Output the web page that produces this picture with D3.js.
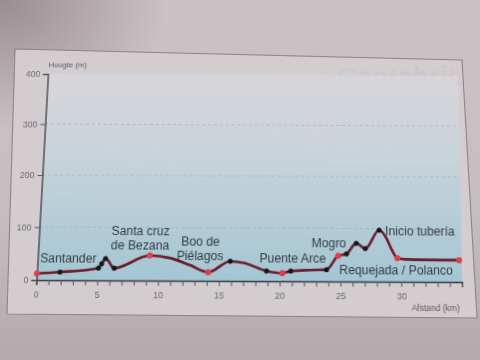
<!DOCTYPE html>
<html><head><meta charset="utf-8">
<script src="https://cdn.jsdelivr.net/npm/d3@7"></script>
<style>
html,body{margin:0;padding:0;width:480px;height:360px;overflow:hidden;background:#c4bbbf;}
svg{position:absolute;left:0;top:0;}
#chart{transform-origin:0 0;}
</style></head><body>
<svg id="bg" width="480" height="360"></svg>
<svg id="chart" width="480" height="360"></svg>
<script>
// ---- data ----
const stopKm   = [0, 1.9, 5.05, 5.3, 5.6, 6.35, 9.24, 14.1, 15.9, 18.9, 20.2, 20.9, 23.85, 24.8, 25.5, 26.3, 27.05, 28.2, 29.7, 34.8];
const stopElev = [12, 15, 23, 31, 41, 23, 47, 16, 37, 19, 15, 19, 22, 48, 52, 72, 62, 97, 44, 41];
const stopKind = ["red","dark","dark","dark","dark","dark","red","red","dark","dark","red","dark","dark","red","dark","dark","dark","dark","red","red"];
const shapeKm   = [11.0, 12.6, 17.0, 22.5, 28.8, 29.2, 30.4];
const shapeElev = [42, 29, 34, 21, 82, 62, 42];
const placeNames = [["Santander"], ["Santa cruz","de Bezana"], ["Boo de","Piélagos"], ["Puente Arce"], ["Mogro"], ["Inicio tubería"], ["Requejada / Polanco"]];
const yTicks = [0, 100, 200, 300, 400];
const xMajor = [0, 5, 10, 15, 20, 25, 30];
const yTitle = "Hoogte (m)";
const xTitle = "Afstand (km)";

// ---- background (paper photo) ----
const bg = d3.select("#bg");
const bdefs = bg.append("defs");
const pg = bdefs.append("linearGradient").attr("id","paper").attr("x1",0).attr("y1",0).attr("x2",0).attr("y2",1);
pg.append("stop").attr("offset","0").attr("stop-color","#cbc2c6");
pg.append("stop").attr("offset","0.6").attr("stop-color","#c6bdc1");
pg.append("stop").attr("offset","1").attr("stop-color","#b4a8ac");
const vg = bdefs.append("radialGradient").attr("id","vign").attr("cx",0).attr("cy",0).attr("r",0.35).attr("gradientUnits","objectBoundingBox");
vg.append("stop").attr("offset","0").attr("stop-color","#6e6266").attr("stop-opacity",0.55);
vg.append("stop").attr("offset","1").attr("stop-color","#6e6266").attr("stop-opacity",0);
bg.append("rect").attr("width",480).attr("height",360).attr("fill","url(#paper)");
bg.append("rect").attr("width",480).attr("height",360).attr("fill","url(#vign)");
bg.append("path").attr("d","M15,49 Q300,57 462,60 L477,318 Q240,315 7,314 Z")
  .attr("fill","#d4cdd0").attr("stroke","#8d8589").attr("stroke-width",1.1);
bg.append("text").attr("x",462).attr("y",86).attr("text-anchor","end")
  .attr("font-family","Liberation Sans, Arial, sans-serif").attr("font-weight","bold").attr("font-size",27)
  .attr("fill","#cfc7cb").text("Cantabrië");

// ---- chart (flat coordinates, then perspective-warped) ----
const svg = d3.select("#chart");
const defs = svg.append("defs");
const L = 36.5, R = 462.8, T = 74, B = 280;
const x = d3.scaleLinear().domain([0,35]).range([L,R]);
const y = d3.scaleLinear().domain([0,400]).range([B,T]);
const font = "Liberation Sans, Arial, Helvetica, sans-serif";

const gg = defs.append("linearGradient").attr("id","plotbg").attr("x1",0).attr("y1",0).attr("x2",0).attr("y2",1);
gg.append("stop").attr("offset","0").attr("stop-color","#d7d6dc").attr("stop-opacity",0.85);
gg.append("stop").attr("offset","0.45").attr("stop-color","#c6d2d9");
gg.append("stop").attr("offset","1").attr("stop-color","#a3c6d3");
svg.append("rect").attr("x",L).attr("y",T).attr("width",R-L).attr("height",B-T).attr("fill","url(#plotbg)");

// grid
svg.append("g").selectAll("line").data(yTicks.filter(d=>d>0 && d<400)).join("line")
  .attr("x1",L).attr("x2",R).attr("y1",d=>y(d)).attr("y2",d=>y(d))
  .attr("stroke","#9fb2bd").attr("stroke-opacity",0.75).attr("stroke-dasharray","3,3").attr("stroke-width",1);

// axes
const yAxis = svg.append("g").attr("transform",`translate(${L},0)`)
  .call(d3.axisLeft(y).tickValues(yTicks).tickSize(5).tickPadding(3));
const xAxis = svg.append("g").attr("transform",`translate(0,${B})`)
  .call(d3.axisBottom(x).tickValues(d3.range(0,35)).tickSize(5).tickPadding(6)
    .tickFormat(d=>xMajor.includes(d)?d:""));
[yAxis,xAxis].forEach(a=>{
  a.selectAll("path").attr("stroke","#3c3c44").attr("stroke-width",1.3);
  a.selectAll("line").attr("stroke","#55555c");
  a.selectAll("text").attr("font-family",font).attr("font-size",9).attr("fill","#6a6a70");
});

// profile line
const profile = stopKm.map((k,i)=>({k,e:stopElev[i]}))
  .concat(shapeKm.map((k,i)=>({k,e:shapeElev[i]})))
  .sort((a,b)=>a.k-b.k);
svg.append("path").datum(profile)
  .attr("d",d3.line().x(d=>x(d.k)).y(d=>y(d.e)).curve(d3.curveMonotoneX))
  .attr("fill","none").attr("stroke","#6c1f2d").attr("stroke-width",2.6).attr("stroke-linejoin","round");

// markers
svg.append("g").selectAll("circle").data(stopKm.map((k,i)=>({k,e:stopElev[i],t:stopKind[i]}))).join("circle")
  .attr("cx",d=>x(d.k)).attr("cy",d=>y(d.e))
  .attr("r",d=>d.t==="red"?3:2.5)
  .attr("fill",d=>d.t==="red"?"#de3f4e":"#17171a");

// place labels (anchor in km / m, alignment)
const place = [
  {k:0.2,  e:33, a:"start"},
  {k:6.0,  e:86, a:"start"},
  {k:13.4, e:66, a:"middle"},
  {k:18.3, e:35, a:"start"},
  {k:22.6, e:64, a:"start"},
  {k:28.7, e:87, a:"start"},
  {k:24.9, e:14, a:"start"}
];
placeNames.forEach((lines,i)=>{
  const p = place[i];
  const t = svg.append("text").attr("x",x(p.k)).attr("y",y(p.e)).attr("text-anchor",p.a)
    .attr("font-family",font).attr("font-size",12.3).attr("fill","#343c45");
  lines.forEach((s,j)=>t.append("tspan").attr("x",x(p.k)).attr("dy",j?14.5:0).text(s));
});

// axis titles
svg.append("text").attr("x",L).attr("y",67).attr("font-family",font).attr("font-size",8)
  .attr("fill","#5a5a60").text(yTitle);
svg.append("text").attr("x",460).attr("y",308).attr("text-anchor","end").attr("font-family",font).attr("font-size",8.5)
  .attr("fill","#5a5a60").text(xTitle);

// ---- perspective warp of the photographed page ----
function solve(A,b){
  const n=b.length;
  for(let i=0;i<n;i++){
    let p=i; for(let r=i+1;r<n;r++) if(Math.abs(A[r][i])>Math.abs(A[p][i])) p=r;
    [A[i],A[p]]=[A[p],A[i]]; [b[i],b[p]]=[b[p],b[i]];
    for(let r=0;r<n;r++){ if(r===i) continue; const f=A[r][i]/A[i][i];
      for(let c=i;c<n;c++) A[r][c]-=f*A[i][c]; b[r]-=f*b[i]; }
  }
  return b.map((v,i)=>v/A[i][i]);
}
const src = [[L,T],[R,T],[R,B],[L,B]];
const dst = [[48,74],[458,76],[462,282],[36.5,280]];
const A=[], bb=[];
src.forEach(([sx,sy],i)=>{
  const [X,Y]=dst[i];
  A.push([sx,sy,1,0,0,0,-sx*X,-sy*X]); bb.push(X);
  A.push([0,0,0,sx,sy,1,-sx*Y,-sy*Y]); bb.push(Y);
});
const [a,b,c,d,e,f,g,h] = solve(A,bb);
document.getElementById("chart").style.transform =
  `matrix3d(${a},${d},0,${g},${b},${e},0,${h},0,0,1,0,${c},${f},0,1)`;
</script>
</body></html>
